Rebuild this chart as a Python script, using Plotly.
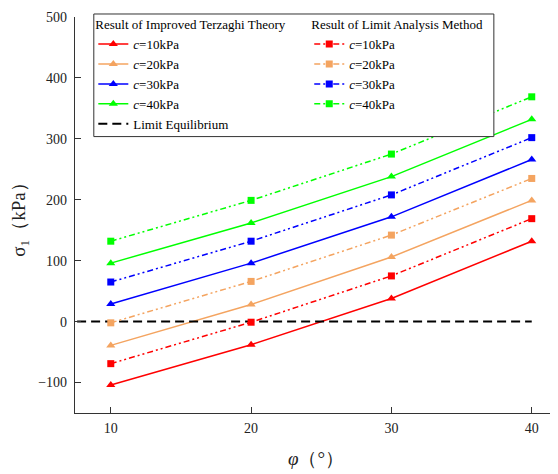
import plotly.graph_objects as go

phi = [10, 20, 30, 40]
c_labels = ["<i>c</i>=10kPa", "<i>c</i>=20kPa", "<i>c</i>=30kPa", "<i>c</i>=40kPa"]
colors = ["#FF0000", "#F4A460", "#0000FF", "#00FF00"]

# Result of Improved Terzaghi Theory
terzaghi_c10 = [-104, -38, 38, 132]
terzaghi_c20 = [-39, 28, 106, 199]
terzaghi_c30 = [29, 96, 172, 266]
terzaghi_c40 = [96, 162, 238, 332]

# Result of Limit Analysis Method
limit_c10 = [-69, -1, 75, 169]
limit_c20 = [-2, 66, 142, 235]
limit_c30 = [65, 132, 208, 302]
limit_c40 = [132, 199, 275, 369]

# Limit Equilibrium
phi_eq = [7.6, 40]
sigma_eq = [0, 0]

terzaghi = [terzaghi_c10, terzaghi_c20, terzaghi_c30, terzaghi_c40]
limit = [limit_c10, limit_c20, limit_c30, limit_c40]

FONT = "Liberation Serif"

fig = go.Figure()

for lbl, col, ys in zip(c_labels, colors, terzaghi):
    fig.add_trace(go.Scatter(
        x=phi, y=ys, mode="lines+markers", name=lbl,
        line=dict(color=col, width=1.5),
        marker=dict(symbol="triangle-up", size=8, color=col),
        legend="legend",
    ))

fig.add_trace(go.Scatter(
    x=phi_eq, y=sigma_eq, mode="lines", name="Limit Equilibrium",
    line=dict(color="black", width=2, dash="9px,5px"),
    legend="legend",
))

for lbl, col, ys in zip(c_labels, colors, limit):
    fig.add_trace(go.Scatter(
        x=phi, y=ys, mode="lines+markers", name=lbl,
        line=dict(color=col, width=1.5, dash="6px,3px,2px,3px,2px,3px"),
        marker=dict(symbol="square", size=7, color=col),
        legend="legend2",
    ))

legend_common = dict(
    bgcolor="rgba(0,0,0,0)", borderwidth=0,
    font=dict(family=FONT, size=13, color="black"),
    xanchor="left", yanchor="top", tracegroupgap=0,
    itemwidth=30,
)

fig.update_layout(
    width=558, height=474,
    margin=dict(l=67, r=9, t=9, b=69, autoexpand=False),
    paper_bgcolor="white", plot_bgcolor="white",
    font=dict(family=FONT, size=14, color="#222"),
    legend=dict(
        x=0.038, y=1.012,
        title=dict(text="Result of Improved Terzaghi Theory", font=dict(family=FONT, size=13, color="black")),
        **legend_common,
    ),
    legend2=dict(
        x=0.486, y=1.012,
        title=dict(text="Result of Limit Analysis Method", font=dict(family=FONT, size=13, color="black")),
        **legend_common,
    ),
    xaxis=dict(
        range=[7.45, 41.8], tickvals=[10, 20, 30, 40],
        showline=True, linecolor="#333", linewidth=1.2, mirror=False,
        ticks="inside", ticklen=6, tickcolor="#333",
        showgrid=False, zeroline=False,
        ticklabelstandoff=2,
        tickfont=dict(family=FONT, size=14, color="#222"),
        title=dict(text="<i>φ</i>（°）", font=dict(family=FONT, size=19, color="#222"), standoff=16),
    ),
    yaxis=dict(
        range=[-150, 500], tickvals=[-100, 0, 100, 200, 300, 400, 500],
        showline=True, linecolor="#333", linewidth=1.2, mirror=False,
        ticks="inside", ticklen=6, tickcolor="#333",
        showgrid=False, zeroline=False,
        ticklabelstandoff=4,
        tickfont=dict(family=FONT, size=14, color="#222"),
        title=dict(text="σ<sub>1</sub>（kPa）", font=dict(family=FONT, size=19, color="#222"), standoff=7),
    ),
    shapes=[dict(
        type="rect", xref="paper", yref="paper",
        x0=0.039, x1=0.869, y0=0.698, y1=1.0076,
        line=dict(color="#333", width=1), fillcolor="white", layer="above",
    )],
)

fig.write_html("out.html")
